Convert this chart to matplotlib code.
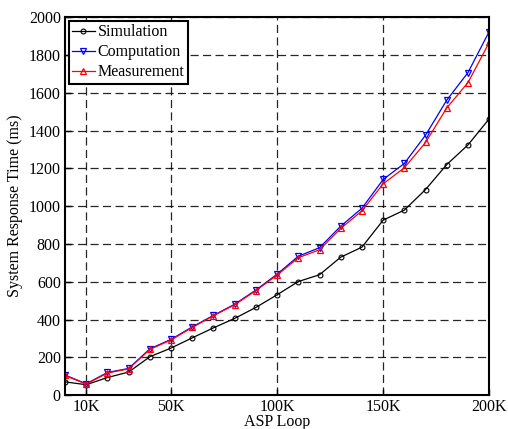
import matplotlib
matplotlib.use("Agg")
import matplotlib.pyplot as plt

# Donnees (x en milliers de boucles)
asp_loop = [0, 10, 20, 30, 40, 50, 60, 70, 80, 90, 100,
            110, 120, 130, 140, 150, 160, 170, 180, 190, 200]
simulation = [70, 55, 93, 122, 203, 249, 303, 356, 406, 464, 531,
              601, 637, 730, 783, 926, 979, 1088, 1220, 1324, 1462]
computation = [106, 60, 120, 141, 245, 295, 361, 422, 481, 556, 640,
               735, 780, 894, 989, 1141, 1226, 1376, 1561, 1707, 1924]
measurement = [104, 58, 117, 139, 242, 292, 358, 420, 478, 553, 635,
               727, 769, 882, 975, 1118, 1203, 1337, 1520, 1654, 1866]

x_ticks = [10, 50, 100, 150, 200]
x_tick_labels = ['10K', '50K', '100K', '150K', '200K']
y_ticks = list(range(0, 2001, 200))

plt.rcParams['font.family'] = ['Liberation Serif', 'DejaVu Serif']
plt.rcParams['font.size'] = 11.5

fig = plt.figure(figsize=(5.08, 4.29), dpi=100)
ax = fig.add_axes([0.128, 0.079, 0.835, 0.881])

ax.plot(asp_loop, simulation, color='black', lw=0.9, marker='o', ms=3.5,
        mfc='none', mew=0.8, label='Simulation')
ax.plot(asp_loop, computation, color='blue', lw=0.9, marker='v', ms=4.2,
        mfc='none', mew=0.9, label='Computation')
ax.plot(asp_loop, measurement, color='red', lw=0.9, marker='^', ms=4.2,
        mfc='none', mew=0.9, label='Measurement')

ax.set_xlim(0, 200)
ax.set_ylim(0, 2000)
ax.set_xticks(x_ticks)
ax.set_xticklabels(x_tick_labels)
ax.set_yticks(y_ticks)
ax.tick_params(direction='in', length=4, width=1, pad=3)
ax.grid(True, color='black', linestyle=(0, (6.5, 3.5)), linewidth=0.9, alpha=0.85)
for s in ax.spines.values():
    s.set_linewidth(1.5)

ax.set_xlabel('ASP Loop', labelpad=-1)
ax.set_ylabel('System Response Time (ms)', labelpad=4)

leg = ax.legend(loc='upper left', fancybox=False, framealpha=1,
                edgecolor='black', borderpad=0.2, labelspacing=0.25,
                handlelength=1.4, handletextpad=0.2, borderaxespad=0.25)
leg.get_frame().set_linewidth(1.5)

plt.savefig('out.png', dpi=100)
